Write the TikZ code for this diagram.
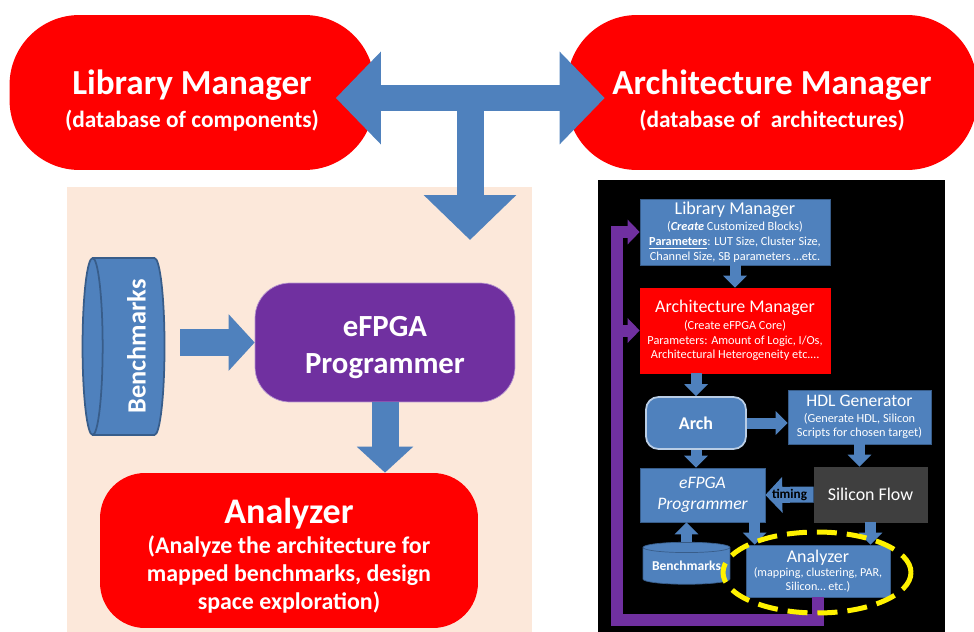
\documentclass[tikz,border=0pt]{standalone}
\usepackage{fontspec}
\setmainfont{Carlito}
\usetikzlibrary{positioning,arrows.meta,shapes.geometric,shapes.misc,calc}
\definecolor{mgrred}{HTML}{FF0000}
\definecolor{boxblue}{HTML}{4F81BD}
\definecolor{boxedge}{HTML}{385D8A}
\definecolor{progpurple}{HTML}{7030A0}
\definecolor{peach}{HTML}{FCE8DA}
\definecolor{flowgray}{HTML}{3F3F3F}
\newcommand{\fsz}[2]{\fontsize{#1}{#2}\selectfont}
\tikzset{
  pill/.style={fill=mgrred, text=white, rounded corners=1.4cm, align=center, inner sep=0pt, minimum height=3.1cm},
  bigbox/.style={text=white, align=center, inner sep=0pt},
  fbox/.style={fill=boxblue, draw=boxedge, text=white, align=center, inner sep=0pt},
  bigarrow/.style={draw=boxblue, line width=0.54cm, arrows={-Triangle[width=1.8cm,length=0.9cm]}},
  midarrow/.style={draw=boxblue, line width=0.54cm, arrows={-Triangle[width=1.1cm,length=0.52cm]}},
  smallarrow/.style={draw=boxblue, line width=0.22cm, arrows={-Triangle[width=0.46cm,length=0.24cm]}},
  timearrow/.style={draw=boxblue, line width=0.32cm, arrows={-Triangle[width=0.7cm,length=0.34cm]}},
  purparrow/.style={draw=progpurple, line width=0.24cm, arrows={-Triangle[width=0.48cm,length=0.24cm]}}
}
\begin{document}
\begin{tikzpicture}[x=0.02cm, y=-0.02cm]
\useasboundingbox (0,0) rectangle (974,632);
% panels
\fill[peach] (67,187) rectangle (532,632);
\fill[black] (598,180) rectangle (945,632);

% the two managers
\node[pill, minimum width=7.3cm, font=\bfseries\fsz{13.3}{16}] (lib) at (192,92.5)
  {\fsz{20}{24}\raisebox{0pt}[23pt][0pt]{Library Manager}\\[3pt](database of components)};
\node[pill, minimum width=8.2cm, font=\bfseries\fsz{13.3}{16}] (arch) at (772,92.5)
  {\fsz{20}{24}\raisebox{0pt}[23pt][0pt]{Architecture Manager}\\[3pt](database of~~architectures)};

% T arrow
\coordinate (tj) at (470,98);
\coordinate (tdown) at (470,240);
\draw[bigarrow] (tj) -- (tdown);
\draw[bigarrow, arrows={Triangle[width=1.8cm,length=0.9cm]-Triangle[width=1.8cm,length=0.9cm]},
      shorten <=-0.78cm, shorten >=-0.76cm] (lib.east |- tj) -- (arch.west |- tj);

% left flow
\node[cylinder, shape border rotate=180, aspect=0.15, fill=boxblue, draw=boxedge, line width=1pt,
      text=white, minimum width=3.54cm, minimum height=1.64cm, inner sep=0pt,
      font=\bfseries\fsz{15}{18}] (bench) at (129,346.5)
  {\hspace*{0.3cm}\rotatebox{90}{Benchmarks}};
\node[bigbox, fill=progpurple, draw=progpurple!50!white, rounded corners=0.7cm,
      minimum width=5.2cm, minimum height=2.38cm, font=\bfseries\fsz{17.5}{21}] (prog) at (385,342.5)
  {\raisebox{0pt}[17pt][0pt]{eFPGA}\\Programmer};
\node[bigbox, fill=mgrred, rounded corners=0.9cm, minimum width=7.56cm, minimum height=3.1cm,
      font=\bfseries\fsz{13.6}{16}] (ana) at (289,550.5)
  {\fsz{20.5}{24}\raisebox{0pt}[20pt][0pt]{Analyzer}\\[1pt](Analyze the architecture for\\mapped benchmarks, design\\space exploration)};
\draw[midarrow, shorten <=0.3cm] (bench.east |- prog.west) -- (prog.west);
\draw[midarrow] (prog.south) -- (prog.south |- ana.north);

% framework
\node[fbox, minimum width=3.8cm, minimum height=1.32cm, font=\fsz{7}{8.5}] (flib) at (735,232)
  {\fsz{10.3}{12}Library Manager\\[1pt](\textbf{\textit{Create}} Customized Blocks)\\
   \underline{\textbf{Parameters}}: LUT Size, Cluster Size,\\Channel Size, SB parameters …etc.};
\node[fbox, fill=mgrred, draw=mgrred, minimum width=3.8cm, minimum height=1.7cm, font=\fsz{7}{8.5}] (farch) at (735,330.5)
  {\fsz{10.2}{12}Architecture Manager\\[1pt](Create eFPGA Core)\\
   Parameters: Amount of Logic, I/Os,\\Architectural Heterogeneity etc.…};
\node[fbox, draw=boxblue!40!white, line width=1pt, rounded corners=0.25cm,
      minimum width=2cm, minimum height=1.04cm, font=\bfseries\fsz{10.2}{12}] (fcore) at (696,423) {Arch};
\node[fbox, minimum width=2.86cm, minimum height=1.08cm, font=\fsz{7}{8}] (fhdl) at (859.5,417)
  {\fsz{10}{12}HDL Generator\\[1pt](Generate HDL, Silicon\\Scripts for chosen target)};
\node[fbox, minimum width=2.5cm, minimum height=1.08cm, font=\itshape\fsz{10}{12}] (fprog) at (702.5,495)
  {eFPGA\\Programmer};
\node[fbox, fill=flowgray, draw=flowgray, minimum width=2.26cm, minimum height=1.1cm,
      font=\fsz{10.2}{12}] (fsil) at (870.5,494.5) {Silicon Flow};
\node[cylinder, shape border rotate=90, aspect=0.15, fill=boxblue, draw=boxedge, text=white,
      minimum width=1.74cm, minimum height=0.84cm, inner sep=0pt, font=\bfseries\fsz{7.7}{9}] (fbench) at (686.5,566)
  {Benchmarks};
\node[fbox, minimum width=2.88cm, minimum height=1.04cm, font=\fsz{6.9}{8}] (fana) at (818,571)
  {\fsz{10.2}{12}Analyzer\\(mapping, clustering, PAR,\\Silicon… etc.)};

% framework arrows
\draw[smallarrow] (flib.south) -- (farch.north);
\draw[smallarrow] (fcore.north |- farch.south) -- (fcore.north);
\draw[smallarrow] (fcore.east) -- (fcore.east -| fhdl.west);
\draw[smallarrow] (fhdl.south) -- (fhdl.south |- fsil.north);
\draw[smallarrow] (fcore.south) -- (fcore.south |- fprog.north);
\draw[timearrow] (fsil.west) -- node[text=black, font=\bfseries\fsz{7.5}{9}] {timing} (fprog.east);
\draw[smallarrow] ([xshift=0.18cm]fana.north west |- fprog.south) -- ([xshift=0.18cm]fana.north west);
\draw[smallarrow] (fsil.south) -- (fsil.south |- fana.north);
\draw[smallarrow] (fbench.north) -- (fbench.north |- fprog.south);

% feedback loop
\coordinate (fb) at (617,620);
\draw[purparrow] (fana.south) |- (fb) |- (flib.west);
\draw[purparrow] (fb |- farch.west) -- (farch.west);
\node[ellipse, draw=yellow, line width=0.1cm, dash pattern=on 0.4cm off 0.2cm,
      minimum width=3.76cm, minimum height=1.62cm] (fring) at (817,572.5) {};
\end{tikzpicture}
\end{document}
